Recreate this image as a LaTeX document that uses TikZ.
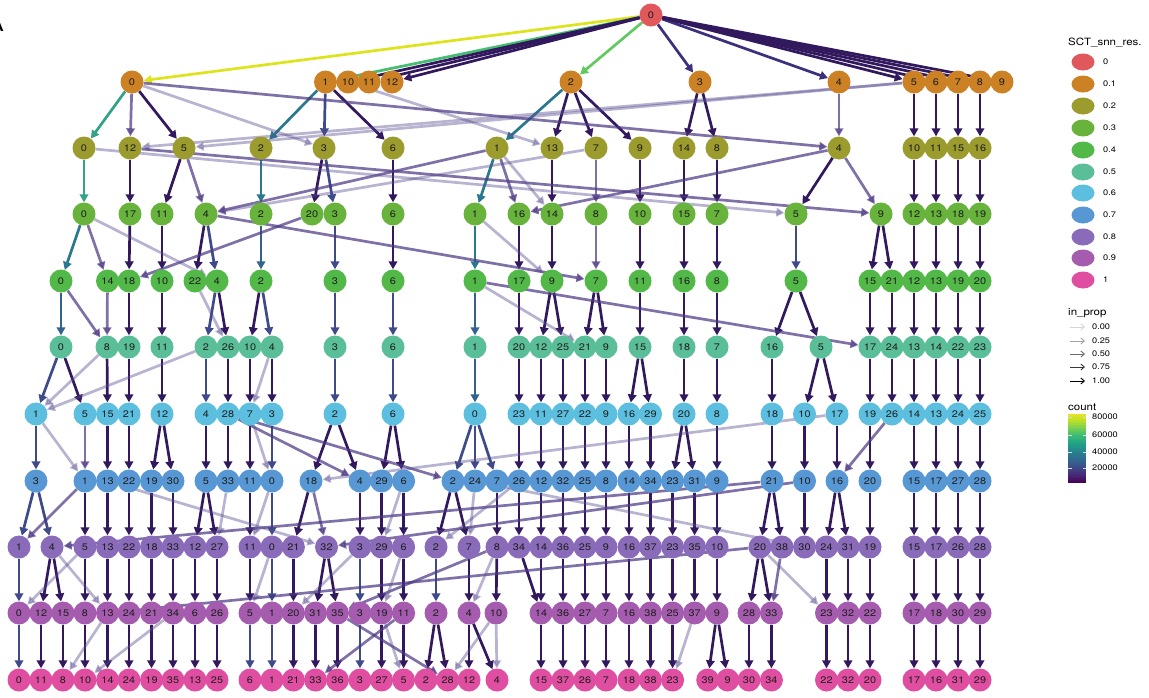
\documentclass[tikz,border=0pt]{standalone}
\usepackage{fontspec}
\setmainfont{TeX Gyre Heros}[FakeStretch=1.15]
\usetikzlibrary{arrows.meta,shapes.geometric}
\pgfdeclarelayer{paper}
\pgfdeclarelayer{edges}
\pgfsetlayers{paper,edges,main}

% cluster fill colours, one per resolution
\definecolor{rc0}{HTML}{E0575C}
\definecolor{rc1}{HTML}{CB8124}
\definecolor{rc2}{HTML}{9C9B2E}
\definecolor{rc3}{HTML}{67B33C}
\definecolor{rc4}{HTML}{52B848}
\definecolor{rc5}{HTML}{5ABF98}
\definecolor{rc6}{HTML}{5CBFE0}
\definecolor{rc7}{HTML}{5797D4}
\definecolor{rc8}{HTML}{8A6BB9}
\definecolor{rc9}{HTML}{A65CAE}
\definecolor{rc10}{HTML}{DF4EA0}
% edge colours (count)
\definecolor{eY}{HTML}{DDE41C}
\definecolor{eG1}{HTML}{62C95E}
\definecolor{eG2}{HTML}{43BD6F}
\definecolor{eT1}{HTML}{33A286}
\definecolor{eT2}{HTML}{2A788E}
\definecolor{eB1}{HTML}{33638D}
\definecolor{eB2}{HTML}{3E4A89}
\definecolor{eBP}{HTML}{3B2F7E}
\definecolor{eDK}{HTML}{32195E}
\definecolor{eM}{HTML}{4A3582}
\definecolor{eL}{HTML}{574A8F}
% viridis stops for the colour bar
\definecolor{v0}{HTML}{440154}
\definecolor{v1}{HTML}{482878}
\definecolor{v2}{HTML}{3E4A89}
\definecolor{v3}{HTML}{31688E}
\definecolor{v4}{HTML}{26828E}
\definecolor{v5}{HTML}{1F9E89}
\definecolor{v6}{HTML}{35B779}
\definecolor{v7}{HTML}{6ECE58}
\definecolor{v8}{HTML}{B5DE2B}
\definecolor{v9}{HTML}{E6E61E}

\tikzset{
  nd/.style={circle, minimum size=23pt, inner sep=0pt, draw=none,
    font=\fontsize{9.5}{9.5}\selectfont, text=black!88},
  n0/.style={nd, fill=rc0}, n1/.style={nd, fill=rc1}, n2/.style={nd, fill=rc2},
  n3/.style={nd, fill=rc3}, n4/.style={nd, fill=rc4}, n5/.style={nd, fill=rc5},
  n6/.style={nd, fill=rc6}, n7/.style={nd, fill=rc7}, n8/.style={nd, fill=rc8},
  n9/.style={nd, fill=rc9}, n10/.style={nd, fill=rc10},
  ed/.style={line width=2.7pt, -{Triangle[length=8pt,width=8.5pt]}},
  ey/.style={ed, draw=eY}, eg1/.style={ed, draw=eG1}, eg2/.style={ed, draw=eG2},
  t1/.style={ed, draw=eT1}, t2/.style={ed, draw=eT2},
  b1/.style={ed, draw=eB1}, b2/.style={ed, draw=eB2}, bp/.style={ed, draw=eBP},
  dk/.style={ed, draw=eDK},
  md/.style={ed, draw=eM, opacity=0.7},
  lt/.style={ed, draw=eL, opacity=0.42},
  ttl/.style={anchor=west, inner sep=0pt, font=\fontsize{10}{10}\selectfont},
  lab/.style={anchor=west, inner sep=0pt, font=\fontsize{8}{8}\selectfont},
  key/.style={ellipse, minimum width=23pt, minimum height=17pt, inner sep=0pt},
}

\begin{document}
\begin{tikzpicture}[x=1pt, y=-1pt]
\begin{pgfonlayer}{paper}
\fill[white] (0,0) rectangle (1149,697);
\end{pgfonlayer}
\useasboundingbox (0,0) rectangle (1149,697);

\node[anchor=center, font=\bfseries\fontsize{14}{14}\selectfont] (panel) at (-2,26) {A};

% ---------- clusters, one row per resolution ----------
\node[n0] (r0c0) at (651,15) {0};
\foreach \c/\x in {0/132,1/325.5,10/348,11/369,12/392,2/571,3/700,4/839,5/914,6/936,7/958,8/980,9/1002}
  \node[n1] (r1c\c) at (\x,82) {\c};
\foreach \c/\x in {0/84,12/130,5/184,2/261,3/324,6/393,1/497,13/552,7/596,9/640,14/684,8/717,4/839,10/914,11/936,15/958,16/980}
  \node[n2] (r2c\c) at (\x,148) {\c};
\foreach \c/\x in {0/84,17/130,11/162,4/206,2/261,20/312,3/335,6/393,1/475,16/519,14/552,8/596,10/640,15/684,7/717,5/796,9/881,12/914,13/936,18/958,19/980}
  \node[n3] (r3c\c) at (\x,214) {\c};
\foreach \c/\x in {0/61,14/107.5,18/129,10/162,22/195,4/217,2/261,3/335,6/393,1/475,17/519,9/552,7/596,11/640,16/684,8/717,5/796,15/870,21/892,12/914,13/936,19/958,20/980}
  \node[n4] (r4c\c) at (\x,281) {\c};
\foreach \c/\x in {0/61,8/107,19/129,11/162,2/206,26/228,10/250,4/272,3/335,6/393,1/475,20/519,12/541,25/563,21/585,9/606,15/640,18/684,7/717,16/772,5/821,17/870,24/892,13/914,14/936,22/958,23/980}
  \node[n5] (r5c\c) at (\x,347) {\c};
\foreach \c/\x in {1/36,5/85,15/107.5,21/129,12/162,4/206,28/228,7/250,3/272,2/335,6/393,0/475,23/519,11/541,27/563,22/585,9/606,16/629,29/650.5,20/684,8/717,18/772,10/804.5,17/837,19/870,26/892,14/914,13/936,24/958,25/980}
  \node[n6] (r6c\c) at (\x,414) {\c};
\foreach \c/\x in {3/36,1/85,13/107.5,22/129,19/151.5,30/173,5/206,33/228,11/250,0/272,18/311,4/360,29/381.6,6/403.6,2/453,24/475,7/497,26/519,12/541,32/563,25/585,8/606,14/629,34/650.5,23/672.6,31/694.6,9/717,21/772,10/804.5,16/837,20/870,15/914,17/936,27/958,28/980}
  \node[n7] (r7c\c) at (\x,481) {\c};
\foreach \c/\x in {1/19,4/52,5/85,13/107.5,22/129,18/151.5,33/173,12/195,27/217,11/250,0/272,21/293.4,32/326.5,3/360,29/381.6,6/403.6,2/436,7/469,8/497,34/519,14/541,36/563,25/585,9/606,16/629,37/650.5,23/672.6,35/694.6,10/717,20/760,38/782,30/804.5,24/826.5,31/848,19/870,15/914,17/936,26/958,28/980}
  \node[n8] (r8c\c) at (\x,547) {\c};
\foreach \c/\x in {0/19,12/41,15/63,8/85,13/107.5,24/129,21/151.5,34/173,6/195,26/217,5/250,1/272,20/293.4,31/315.5,35/337.5,3/360,19/381.6,11/403.6,2/436,4/469,10/496,14/541,36/563,27/585,7/606,16/629,38/650.5,25/672.6,37/694.6,9/717,28/749,33/771.4,23/826.5,32/848,22/870,17/914,18/936,30/958,29/980}
  \node[n9] (r9c\c) at (\x,613) {\c};
\foreach \c/\x in {0/19,11/41,8/63,10/85,14/107.5,24/129,19/151.5,35/173,13/195,25/217,6/250,1/272,21/293.4,33/315.5,36/337.5,3/360,27/381.6,5/403.6,2/426,28/447.7,12/469,4/497,15/541,37/563,26/585,7/606,18/629,38/650.5,23/672.6,39/707.7,9/727.7,30/749,34/771.4,22/826.5,32/848,20/870,17/914,16/936,31/958,29/980}
  \node[n10] (r10c\c) at (\x,680) {\c};

% ---------- edges between neighbouring resolutions ----------
\begin{pgfonlayer}{edges}
% 0 -> 0.1
\draw[ey] (r0c0) -- (r1c0);
\draw[eg2] (r0c0) -- (r1c1);
\draw[eg1] (r0c0) -- (r1c2);
\foreach \b in {3,4} \draw[bp] (r0c0) -- (r1c\b);
\foreach \b in {5,6,7,8,9,10,11,12} \draw[dk] (r0c0) -- (r1c\b);
% 0.1 -> 0.2
\draw[t1] (r1c0) -- (r2c0);
\foreach \a/\b in {1/2,2/1} \draw[t2] (r1c\a) -- (r2c\b);
\draw[b2] (r1c1) -- (r2c3);
\foreach \a/\b in {0/5,1/6,2/13,2/7,2/9,3/14,3/8,5/10,6/11,7/15,8/16} \draw[dk] (r1c\a) -- (r2c\b);
\foreach \a/\b in {0/12,0/4,4/4} \draw[md] (r1c\a) -- (r2c\b);
\foreach \a/\b in {0/3,10/13,5/12,5/5} \draw[lt] (r1c\a) -- (r2c\b);
% 0.2 -> 0.3
\draw[t1] (r2c0) -- (r3c0);
\foreach \a/\b in {2/2,1/1} \draw[t2] (r2c\a) -- (r3c\b);
\draw[b2] (r2c3) -- (r3c3);
\foreach \a/\b in {12/17,5/11,3/20,6/6,13/14,9/10,14/15,8/7,10/12,11/13,15/18,16/19,4/5} \draw[dk] (r2c\a) -- (r3c\b);
\foreach \a/\b in {5/4,1/16,7/8,1/4,12/9,4/9,4/16} \draw[md] (r2c\a) -- (r3c\b);
\foreach \a/\b in {1/14,7/4,0/5} \draw[lt] (r2c\a) -- (r3c\b);
% 0.3 -> 0.4
\foreach \a/\b in {0/0,1/1} \draw[t2] (r3c\a) -- (r4c\b);
\draw[b1] (r3c2) -- (r4c2);
\foreach \a/\b in {4/4,3/3,5/5} \draw[b2] (r3c\a) -- (r4c\b);
\foreach \a/\b in {17/18,11/10,4/22,6/6,16/17,14/9,10/11,15/16,7/8,9/15,9/21,12/12,13/13,18/19,19/20} \draw[dk] (r3c\a) -- (r4c\b);
\foreach \a/\b in {0/14,20/18,4/7,8/7} \draw[md] (r3c\a) -- (r4c\b);
\foreach \a/\b in {0/4,1/9} \draw[lt] (r3c\a) -- (r4c\b);
% 0.4 -> 0.5
\foreach \a/\b in {0/0,1/1} \draw[b1] (r4c\a) -- (r5c\b);
\foreach \a/\b in {4/2,2/4,3/3,6/6} \draw[b2] (r4c\a) -- (r5c\b);
\foreach \a/\b in {18/19,10/11,4/26,2/10,17/20,9/12,9/25,7/21,7/9,11/15,16/18,8/7,5/16,5/5,15/17,21/24,12/13,13/14,19/22,20/23} \draw[dk] (r4c\a) -- (r5c\b);
\foreach \a/\b in {0/8,14/8,1/17} \draw[md] (r4c\a) -- (r5c\b);
\foreach \a/\b in {22/26,1/21} \draw[lt] (r4c\a) -- (r5c\b);
% 0.5 -> 0.6
\draw[b1] (r5c1) -- (r6c0);
\foreach \a/\b in {0/1,2/4,3/2,6/6} \draw[b2] (r5c\a) -- (r6c\b);
\foreach \a/\b in {0/5,8/15,19/21,11/12,26/28,10/7,4/3,20/23,12/11,25/27,21/22,9/9,15/16,15/29,18/20,7/8,16/18,5/10,5/17,17/19,24/26,13/14,14/13,22/24,23/25} \draw[dk] (r5c\a) -- (r6c\b);
\foreach \a/\b in {8/1,2/1,4/7} \draw[lt] (r5c\a) -- (r6c\b);
% 0.6 -> 0.7
\foreach \a/\b in {1/3,3/0,0/2,0/7,0/24} \draw[b2] (r6c\a) -- (r7c\b);
\foreach \a/\b in {15/13,21/22,12/19,12/30,4/5,28/33,7/11,2/18,2/4,6/29,6/6,23/26,11/12,27/32,22/25,9/8,16/14,29/34,20/23,20/31,8/9,18/21,10/10,17/16,19/20,14/15,13/17,24/27,25/28} \draw[dk] (r6c\a) -- (r7c\b);
\foreach \a/\b in {5/1,28/2,28/4,26/16} \draw[md] (r6c\a) -- (r7c\b);
\foreach \a/\b in {1/1,7/0,17/18} \draw[lt] (r6c\a) -- (r7c\b);
% 0.7 -> 0.8
\foreach \a/\b in {3/1,3/4,0/0} \draw[b2] (r7c\a) -- (r8c\b);
\foreach \a/\b in {1/5,13/13,22/22,19/18,30/33,5/12,5/27,11/11,18/21,4/3,29/29,6/6,2/2,2/7,7/8,26/34,12/14,32/36,25/25,8/9,14/16,34/37,23/23,31/35,9/10,21/20,21/38,10/30,16/24,16/31,20/19,15/15,17/17,27/26,28/28} \draw[dk] (r7c\a) -- (r8c\b);
\foreach \a/\b in {1/1,21/4,10/32,18/32} \draw[md] (r7c\a) -- (r8c\b);
\foreach \a/\b in {13/32,33/27,0/11,24/7,24/30,26/2,6/29} \draw[lt] (r7c\a) -- (r8c\b);
% 0.8 -> 0.9
\foreach \a/\b in {1/0,0/1,3/3,2/2} \draw[b2] (r8c\a) -- (r9c\b);
\foreach \a/\b in {4/12,4/15,5/8,13/13,22/24,18/21,33/34,12/6,27/26,11/5,21/20,32/31,32/35,29/19,6/11,7/4,8/10,34/14,14/14,36/36,25/27,9/7,16/16,37/38,23/25,35/37,10/9,20/28,20/33,24/23,31/32,19/22,15/17,17/18,26/30,28/29} \draw[dk] (r8c\a) -- (r9c\b);
\foreach \a/\b in {20/13,8/35,38/33} \draw[md] (r8c\a) -- (r9c\b);
\foreach \a/\b in {4/13,5/0,0/5,3/20,6/19,8/4,20/23} \draw[lt] (r8c\a) -- (r9c\b);
% 0.9 -> 1
\foreach \a/\b in {0/0,1/1,5/6,3/3} \draw[b2] (r9c\a) -- (r10c\b);
\foreach \a/\b in {12/11,15/8,8/10,13/14,24/24,21/19,34/35,6/13,26/25,20/21,31/33,35/36,19/27,11/5,2/2,2/28,4/12,4/4,14/15,36/37,27/26,7/7,16/18,38/38,25/23,9/39,9/9,28/30,33/34,23/22,32/32,22/20,17/17,18/16,30/31,29/29} \draw[dk] (r9c\a) -- (r10c\b);
\foreach \a/\b in {11/33,35/28} \draw[md] (r9c\a) -- (r10c\b);
\foreach \a/\b in {13/8,34/10,10/4,10/28,37/23,19/5} \draw[lt] (r9c\a) -- (r10c\b);
\end{pgfonlayer}

% ---------- legend: resolution ----------
\node[ttl] (legres) at (1068,43) {SCT\_snn\_res.};
\foreach \i/\t/\y in {0/0/62,1/0.1/84,2/0.2/106,3/0.3/128,4/0.4/150,5/0.5/172,6/0.6/193,7/0.7/215,8/0.8/237,9/0.9/258,10/1/280} {
  \node[key, fill=rc\i] (key\i) at (1083,\y) {};
  \node[lab] (keylab\i) at (1103,\y) {\t};
}

% ---------- legend: in_prop ----------
\node[ttl] (legprop) at (1068,313) {in\_prop};
\foreach \i/\t/\y/\g in {0/0.00/327/16,1/0.25/341/36,2/0.50/354/58,3/0.75/367/78,4/1.00/381/100} {
  \coordinate (pa\i) at (1070,\y);
  \coordinate (pb\i) at (1085,\y);
  \draw[black!\g, line width=0.9pt, -{Straight Barb[length=3.5pt,width=6pt]}] (pa\i) -- (pb\i);
  \node[lab] (proplab\i) at (1092,\y) {\t};
}

% ---------- legend: count colour bar ----------
\node[ttl] (legcount) at (1068,407) {count};
\foreach \k in {0,...,8} {
  \pgfmathtruncatemacro\kn{\k+1}
  \foreach \s in {0,...,4} {
    \pgfmathsetmacro\yb{483-(\k*5+\s)*69/45}
    \pgfmathsetmacro\yt{\yb-69/45-0.4}
    \pgfmathtruncatemacro\p{20*\s+10}
    \fill[fill=v\kn!\p!v\k] (1068,\yb) rectangle (1086,\yt);
  }
}
\foreach \t/\y in {80000/417,60000/435,40000/452,20000/468} {
  \draw[white!70!gray, line width=0.6pt] (1068,\y) -- (1071.5,\y) (1082.5,\y) -- (1086,\y);
  \node[lab] (cnt\t) at (1092,\y) {\t};
}
\end{tikzpicture}
\end{document}
